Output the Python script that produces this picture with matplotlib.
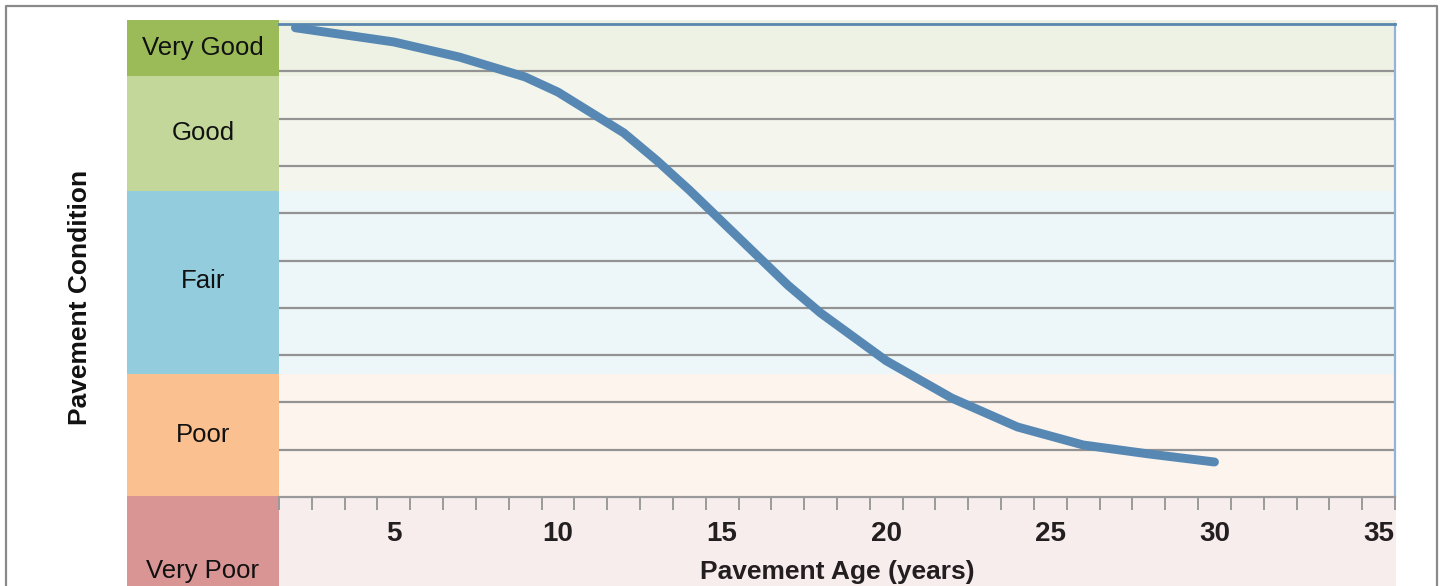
import matplotlib
matplotlib.use("Agg")
import matplotlib.pyplot as plt
from matplotlib import font_manager
from matplotlib.patches import Rectangle
from matplotlib.lines import Line2D

# Condensed sans if available, otherwise the regular Arial-metric face
_names = {f.name for f in font_manager.fontManager.ttflist}
FONT = "Liberation Sans Narrow" if "Liberation Sans Narrow" in _names else "Liberation Sans"
plt.rcParams["font.family"] = [FONT, "DejaVu Sans"]

# ---- data -------------------------------------------------------------
age_years = [2, 5, 7, 9, 10, 12, 13, 14, 17, 18, 20, 22, 24, 26, 28, 30]
condition = [99.2, 96.2, 93.0, 88.8, 85.6, 77.0, 71.2, 64.9, 44.8, 38.9,
             28.8, 20.9, 14.8, 11.0, 9.1, 7.4]

age_categories = list(range(2, 36))          # one slot per year on the axis
age_tick_labels = [5, 10, 15, 20, 25, 30, 35]

band_names = ["Very Good", "Good", "Fair", "Poor", "Very Poor"]
band_colors = ["#9bbb59", "#c4d79b", "#93cddd", "#fac090", "#d99594"]
band_tints = ["#eef2e4", "#f4f6ee", "#edf6f9", "#fdf4ee", "#f7eded"]

# ---- layout (pixels) --------------------------------------------------
W, H = 1442, 586
fig = plt.figure(figsize=(W / 100, H / 100), dpi=100)

# band rows: top / bottom edges in pixels from the top of the figure
band_edges = [20, 76, 191, 374, 496, 660]
label_rows = [48, 133, 281, 435, 571]
col_left, col_right = 127, 279
plot_left, plot_right, plot_top, plot_bottom = 279, 1395, 24, 497

bg = fig.add_axes([0, 0, 1, 1])
bg.set_xlim(0, W)
bg.set_ylim(H, 0)
bg.axis("off")
bg.set_zorder(0)

for i, name in enumerate(band_names):
    top, bot = band_edges[i], band_edges[i + 1]
    bg.add_patch(Rectangle((col_left, top), col_right - col_left, bot - top,
                           facecolor=band_colors[i], edgecolor="none"))
    bg.add_patch(Rectangle((col_right, top), plot_right + 1 - col_right, bot - top,
                           facecolor=band_tints[i], edgecolor="none"))
    bg.text((col_left + col_right) / 2, label_rows[i], name, ha="center",
            va="center", fontsize=18.5, color="#111111")

# outer frame (bottom edge lies below the canvas)
bg.add_line(Line2D([6, 6, 1437, 1437], [H + 10, 6, 6, H + 10],
                   color="#8a8a8a", lw=1.6))

# ---- main axes --------------------------------------------------------
ax = fig.add_axes([plot_left / W, 1 - plot_bottom / H,
                   (plot_right - plot_left) / W, (plot_bottom - plot_top) / H])
ax.set_zorder(1)
ax.patch.set_alpha(0)

ax.set_xlim(age_categories[0] - 0.5, age_categories[-1] + 0.5)
ax.set_ylim(0, 100)

for y in range(10, 100, 10):
    ax.axhline(y, color="#939393", lw=1.6, zorder=1)

ax.plot(age_years, condition, color="#5788b4", lw=6.4,
        solid_capstyle="round", solid_joinstyle="round", zorder=3)

# category boundary ticks, labels centred in their year slot
ax.set_xticks([c - 0.5 for c in age_categories] + [age_categories[-1] + 0.5])
ax.set_xticklabels([])
ax.tick_params(axis="x", which="major", length=9, width=1.4, color="#9a9a9a",
               direction="out")
ax.set_xticks(age_tick_labels, minor=True)
ax.set_xticklabels([str(v) for v in age_tick_labels], minor=True,
                   fontsize=20, fontweight="bold", color="#231f20")
ax.tick_params(axis="x", which="minor", length=0, pad=17)
ax.set_yticks([])

ax.spines["left"].set_visible(False)
ax.spines["top"].set_color("#5b87ad")
ax.spines["top"].set_linewidth(2.0)
ax.spines["right"].set_color("#95b3d7")
ax.spines["right"].set_linewidth(1.6)
ax.spines["bottom"].set_color("#9a9a9a")
ax.spines["bottom"].set_linewidth(1.6)

ax.set_xlabel("Pavement Age (years)", fontsize=19, fontweight="bold",
              color="#231f20", labelpad=10)

fig.text(80 / W, 1 - 297 / H, "Pavement Condition", rotation=90,
         ha="center", va="center", fontsize=19, fontweight="bold",
         color="#111111")

fig.savefig("out.png", dpi=100)
